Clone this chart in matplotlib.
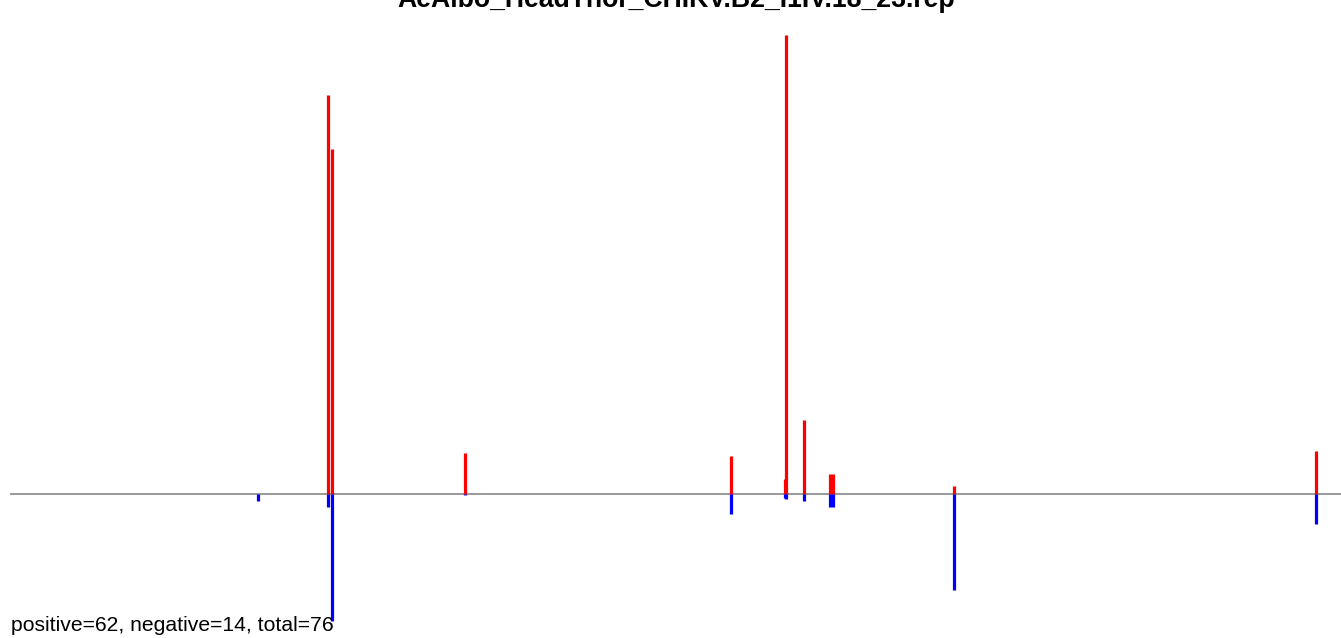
import matplotlib
matplotlib.use("Agg")
import matplotlib.pyplot as plt

# positions along the genome and per-position signal (positive / negative strand)
positions = [2192, 2823, 2850, 4041, 6406, 6878, 6895, 7055, 7278, 7305, 8389, 11608]
positive = [0.03, 17.39, 15.04, 1.81, 1.68, 0.67, 20.0, 3.24, 0.89, 0.89, 0.37, 1.89]
negative = [0.28, 0.54, 5.51, 0.04, 0.85, 0.15, 0.20, 0.28, 0.54, 0.54, 4.16, 1.28]

title = "AeAlbo_HeadThor_CHIKV.B2_I1IV.18_23.rep"
n_pos, n_neg = 62, 14
genome_len = 11826

plt.rcParams['font.family'] = ['Liberation Sans', 'DejaVu Sans']

fig = plt.figure(figsize=(13.41, 6.38), dpi=100)
ax = fig.add_axes([0, 0, 1, 1])
ax.set_xlim(-97.8, genome_len)
ax.set_ylim(-6.246, 21.52)
ax.axis('off')

# baseline
ax.plot([0, genome_len], [0, 0], color='#999999', linewidth=1.4, zorder=1)

# strand bars
ax.vlines(positions, 0, positive, colors='red', linewidth=2.3, zorder=2)
ax.vlines(positions, [-v for v in negative], 0, colors='blue', linewidth=2.3, zorder=2)

fig.text(676 / 1341, 1 - 7 / 638, title, ha='center', va='baseline',
         fontsize=19.2, fontweight='bold')
fig.text(11 / 1341, 1 - 631 / 638,
         f"positive={n_pos}, negative={n_neg}, total={n_pos + n_neg}",
         ha='left', va='baseline', fontsize=15.2, zorder=5)

fig.savefig("out.png", dpi=100)
